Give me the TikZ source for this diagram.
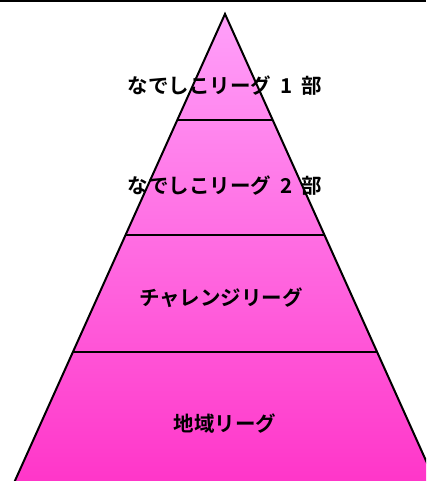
\documentclass[tikz,border=0pt]{standalone}
\usepackage{fontspec}
\newfontfamily\jp{Noto Sans CJK JP}[BoldFont={Noto Sans CJK JP Bold}]
\definecolor{ptop}{RGB}{255,160,250}
\definecolor{pmid}{RGB}{255,102,210}
\definecolor{pbot}{RGB}{255,52,200}
\tikzset{
  lvl/.style={font=\jp\bfseries\fontsize{20.5}{21}\selectfont, text=black, inner sep=0pt},
  edge/.style={draw=black, line width=2pt, line join=miter},
  sep/.style={draw=black, line width=1.6pt}
}
\begin{document}
\begin{tikzpicture}[x=1pt,y=-1pt]
\useasboundingbox (0,0) rectangle (426,481);
\begin{scope}
\clip (0,0) rectangle (426,481);
\shade[top color=ptop, middle color=pmid, bottom color=pbot] (225,14) -- (10.8,490) -- (439.2,490) -- cycle;
\draw[sep] (177.3,120) -- (272.7,120);
\draw[sep] (125.6,235) -- (324.4,235);
\draw[sep] (72.9,352) -- (377.1,352);
\draw[edge] (10.8,490) -- (225,14) -- (439.2,490);
\draw[black, line width=2pt] (0,1) -- (426,1);
\end{scope}
\node[lvl] (l1) at (225,86) {なでしこリーグ\hspace{0.45em}1\hspace{0.45em}部};
\node[lvl] (l2) at (225,186) {なでしこリーグ\hspace{0.45em}2\hspace{0.45em}部};
\node[lvl] (l3) at (221,298) {チャレンジリーグ};
\node[lvl] (l4) at (225,424) {地域リーグ};
\end{tikzpicture}
\end{document}
